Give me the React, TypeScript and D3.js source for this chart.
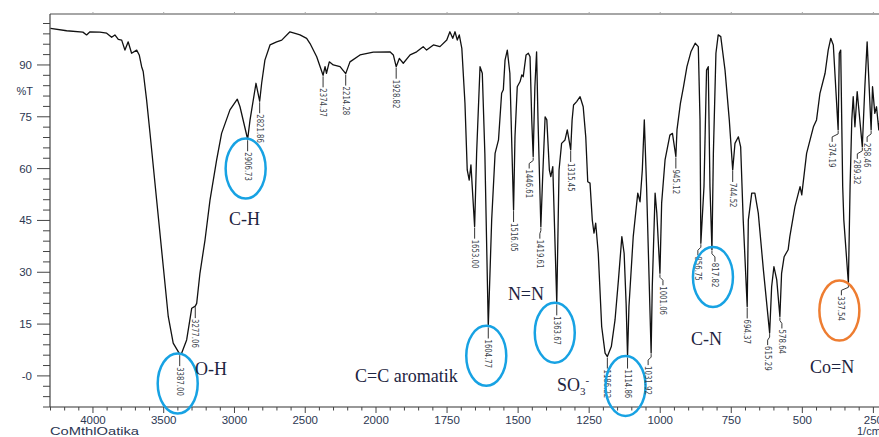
import React from "react";
import * as d3 from "d3";

// spectrum: wavenumber (1/cm) and %T
const wavenumber = [
  4300, 4186, 4071, 4045, 4021, 3951, 3903, 3868, 3845, 3821, 3797, 3774, 3751, 3727, 3691, 3673,
  3656, 3645, 3621, 3597, 3550, 3503, 3468, 3433, 3387, 3373, 3338, 3302, 3277, 3267, 3244, 3208,
  3173, 3126, 3091, 3032, 2980, 2961, 2907, 2890, 2848, 2822, 2808, 2785, 2749, 2702, 2666, 2608,
  2560, 2537, 2490, 2466, 2419, 2374, 2360, 2350, 2330, 2302, 2254, 2214, 2184, 2113, 2019, 1951,
  1939, 1929, 1918, 1904, 1880, 1857, 1834, 1822, 1798, 1775, 1751, 1740, 1730, 1722, 1714, 1707,
  1698, 1687, 1679, 1672, 1666, 1653, 1646, 1634, 1626, 1617, 1605, 1593, 1581, 1569, 1558, 1552,
  1546, 1538, 1529, 1516, 1511, 1503, 1493, 1487, 1482, 1472, 1464, 1458, 1452, 1447, 1441, 1435,
  1430, 1420, 1414, 1405, 1399, 1390, 1385, 1378, 1364, 1356, 1347, 1335, 1327, 1315, 1310, 1305,
  1294, 1282, 1271, 1262, 1255, 1247, 1239, 1233, 1227, 1218, 1206, 1194, 1186, 1172, 1159, 1147,
  1135, 1127, 1120, 1115, 1110, 1095, 1079, 1071, 1063, 1056, 1048, 1032, 1028, 1018, 1012, 1001,
  995, 983, 966, 957, 945, 941, 929, 918, 906, 892, 877, 866, 860, 857, 846, 837,
  831, 825, 818, 813, 804, 796, 787, 772, 757, 745, 737, 725, 717, 708, 694, 690,
  678, 667, 655, 637, 615, 608, 600, 590, 579, 573, 564, 550, 544, 526, 508, 502,
  485, 461, 450, 438, 420, 409, 400, 391, 374, 370, 365, 358, 354, 338, 332, 326,
  321, 315, 307, 289, 280, 272, 258, 253, 245, 239, 231, 222,
];
const transmittance = [
  100.6, 99.9, 99.5, 98.7, 99.6, 99.5, 99.2, 98.0, 98.7, 97.4, 97.2, 94.3, 96.7, 93.4, 94.3, 92.9,
  89.5, 88.1, 79.9, 70.3, 50.9, 31.6, 17.2, 9.5, 6.3, 6.6, 10.4, 19.6, 20.2, 21.0, 29.7, 39.4,
  50.9, 62.5, 70.2, 77.0, 80.1, 77.9, 68.5, 74.1, 84.7, 79.5, 84.7, 91.4, 95.8, 96.7, 97.2, 99.6,
  99.0, 98.7, 97.7, 96.2, 92.4, 87.0, 89.5, 87.6, 90.9, 90.0, 89.5, 87.5, 90.9, 92.9, 93.7, 93.8,
  92.9, 89.5, 91.9, 90.5, 92.9, 93.8, 95.3, 94.3, 95.8, 95.3, 97.2, 99.6, 97.7, 99.6, 97.2, 98.7,
  94.8, 78.9, 59.6, 56.7, 61.1, 43.2, 64.4, 89.5, 87.6, 64.4, 14.3, 45.1, 64.4, 68.3, 81.8, 82.8,
  91.4, 94.3, 87.6, 48.0, 69.2, 83.7, 85.2, 87.1, 86.6, 92.9, 93.4, 92.4, 74.1, 63.5, 83.7, 93.8,
  74.1, 43.2, 56.7, 75.0, 74.1, 59.6, 57.7, 60.6, 21.0, 59.6, 67.3, 68.3, 71.2, 65.4, 74.1, 78.4,
  79.4, 80.8, 77.9, 69.2, 56.2, 55.8, 45.1, 41.3, 44.2, 35.5, 14.3, 6.6, 5.6, 8.5, 16.2, 27.8,
  40.3, 35.5, 21.0, 5.6, 20.1, 40.3, 52.9, 50.4, 59.6, 74.1, 54.8, 6.6, 25.8, 52.9, 47.1, 29.7,
  50.0, 62.5, 69.7, 70.2, 63.5, 71.2, 78.9, 83.7, 89.5, 93.8, 96.3, 95.3, 74.1, 38.4, 54.8, 88.5,
  89.5, 54.8, 36.5, 64.4, 93.4, 98.7, 98.2, 88.5, 74.1, 59.6, 67.3, 69.2, 66.3, 45.1, 20.1, 45.1,
  52.9, 52.9, 47.1, 30.7, 12.4, 25.8, 31.6, 27.8, 17.2, 29.7, 34.5, 36.5, 40.3, 49.0, 54.8, 52.4,
  64.4, 72.1, 74.1, 81.8, 87.6, 94.3, 97.7, 95.8, 71.2, 93.4, 94.3, 54.8, 45.1, 26.8, 54.8, 74.1,
  80.8, 72.1, 82.3, 66.3, 83.7, 96.7, 71.2, 83.7, 76.0, 77.9, 71.2, 80.0,
];

// peak picks
const peakWn = [
  3387, 3277, 2907, 2822, 2374, 2214, 1929, 1653, 1605, 1516, 1447, 1420, 1364, 1315, 1186,
  1115, 1032, 1001, 945, 857, 818, 745, 694, 615, 579, 374, 338, 289, 258,
];
const peakLabels = [
  "3387.00", "3277.06", "2906.73", "2821.86", "2374.37", "2214.28", "1928.82", "1653.00",
  "1604.77", "1516.05", "1446.61", "1419.61", "1363.67", "1315.45", "1186.22", "1114.86",
  "1031.92", "1001.06", "945.12", "856.75", "817.82", "744.52", "694.37", "615.29", "578.64",
  "374.19", "337.54", "289.32", "258.46",
];
const circledBlue = ["3387.00", "2906.73", "1604.77", "1363.67", "1114.86", "817.82"];
const circledOrange = ["337.54"];

// band assignments (text, wavenumber, %T where the text sits)
const bandText = ["O-H", "C-H", "C=C aromatik", "N=N", "SO3-", "C-N", "Co=N"];
const bandWn = [3279, 3039, 2148, 1536, 1363, 892, 473];
const bandT = [0.3, 43.7, -1.7, 22, -4.3, 9, 0.9];

const xTickLabels = [4000, 3500, 3000, 2500, 2000, 1750, 1500, 1250, 1000, 750, 500, 250];
const yTickLabels = ["-0", "15", "30", "45", "60", "75", "90"];
const yTickValues = [0, 15, 30, 45, 60, 75, 90];

// sideways jog of some leader lines
const leaderJog: Record<string, number> = {
  "1446.61": -4, "1419.61": -1, "1031.92": -3, "1001.06": 3, "856.75": -3, "817.82": 3,
  "615.29": -2, "578.64": 2, "374.19": -6, "337.54": -7, "289.32": -5, "258.46": -4,
};

const W = 879;
const H = 437;
const left = 50;
const top = 14;
const bottom = 407;

export default function App() {
  // Shimadzu-style x axis: scale doubles below 2000 1/cm
  const x = d3.scaleLinear().domain([4300, 2000, 200]).range([50.5, 376, 887.6]);
  const y = d3.scaleLinear().domain([-9, 104.75]).range([bottom, top]);

  const pts = wavenumber.map((w, i) => [w, transmittance[i]] as [number, number]);
  const line = d3
    .line<[number, number]>()
    .x((d) => x(d[0]))
    .y((d) => y(d[1]));

  const xMinor = [
    ...d3.range(4300, 2000, -100),
    ...d3.range(2000, 199, -50),
  ];
  const yMinor = d3.range(-9, 104, 3);

  const tickFont = "'Liberation Sans', Arial, sans-serif";
  const labelColor = "#2c3752";
  const bandColor = "#1d2440";

  return (
    <svg
      width={W}
      height={H}
      style={{ position: "absolute", left: 0, top: 0, background: "#fff" }}
    >
      {/* frame */}
      <line x1={left} x2={W} y1={top} y2={top} stroke="#a6a6a6" strokeWidth={2} />
      {xTickLabels.map((t) => (
        <line key={"tt" + t} x1={x(t)} x2={x(t)} y1={top - 2} y2={top + 1} stroke="#a6a6a6" />
      ))}
      <line x1={left} x2={left} y1={top} y2={bottom} stroke="#444" strokeWidth={1.2} />
      <line x1={left} x2={W} y1={bottom} y2={bottom} stroke="#333" strokeWidth={1.2} />

      {/* y axis */}
      {yMinor.map((v) => {
        const major = yTickValues.includes(v);
        return (
          <line
            key={"y" + v}
            x1={major ? left - 13 : left - 7}
            x2={left}
            y1={y(v)}
            y2={y(v)}
            stroke="#444"
          />
        );
      })}
      {yTickValues.map((v, i) => (
        <text
          key={"yl" + v}
          x={32}
          y={y(v)}
          dy="0.35em"
          textAnchor="end"
          fontFamily={tickFont}
          fontSize={11.5}
          fill={labelColor}
        >
          {yTickLabels[i]}
        </text>
      ))}
      <text x={33} y={91} dy="0.35em" textAnchor="end" fontFamily={tickFont} fontSize={11} fill={labelColor}>
        %T
      </text>

      {/* x axis */}
      {xMinor.map((v) => {
        const major = xTickLabels.includes(v);
        return (
          <line
            key={"x" + v}
            x1={x(v)}
            x2={x(v)}
            y1={bottom}
            y2={bottom + (major ? 6 : 3.5)}
            stroke="#444"
          />
        );
      })}
      {xTickLabels.map((t) => (
        <text
          key={"xl" + t}
          x={x(t)}
          y={424}
          textAnchor="middle"
          fontFamily={tickFont}
          fontSize={11.5}
          fill={labelColor}
        >
          {t}
        </text>
      ))}
      <text
        x={left}
        y={435}
        fontFamily={tickFont}
        fontSize={11}
        textLength={89}
        lengthAdjust="spacingAndGlyphs"
        fill={labelColor}
      >
        CoMthlOatika
      </text>
      <text x={857} y={435} fontFamily={tickFont} fontSize={11} fill={labelColor}>
        1/cm
      </text>

      {/* spectrum */}
      <path d={line(pts) || ""} fill="none" stroke="#111" strokeWidth={1.3} strokeLinejoin="round" />

      {/* peak labels */}
      {peakWn.map((w, i) => {
        const lab = peakLabels[i];
        const t = transmittance[wavenumber.indexOf(w)];
        const px = x(w);
        const py = y(t);
        const jog = leaderJog[lab] || 0;
        const lead = jog
          ? `M${px},${py + 1}v3l${jog},3v5`
          : `M${px},${py + 1}V${py + 12}`;
        const tx = px + jog;
        const ty = py + 13;
        const len = 4.1 * lab.length;
        const blue = circledBlue.includes(lab);
        const orange = circledOrange.includes(lab);
        return (
          <g key={lab}>
            <path d={lead} fill="none" stroke="#333" strokeWidth={1} />
            <text
              x={tx}
              y={ty}
              dy="0.35em"
              transform={`rotate(90 ${tx} ${ty})`}
              fontFamily="'Liberation Sans Narrow', 'DejaVu Sans Condensed', sans-serif"
              fontSize={8.5}
              textLength={len}
              lengthAdjust="spacingAndGlyphs"
              fill="#3a3f4a"
            >
              {lab}
            </text>
            {(blue || orange) && (
              <ellipse
                cx={tx - 2}
                cy={ty + len / 2 + 2}
                rx={20}
                ry={30}
                fill="none"
                stroke={blue ? "#17a2e3" : "#ee7d31"}
                strokeWidth={2.5}
              />
            )}
          </g>
        );
      })}

      {/* band assignments */}
      {bandText.map((s, i) => (
        <text
          key={s}
          x={x(bandWn[i])}
          y={y(bandT[i])}
          fontFamily="'Liberation Serif', 'Times New Roman', serif"
          fontSize={18}
          fill={bandColor}
        >
          {s === "SO3-" ? (
            <>
              SO
              <tspan dy={4} fontSize={11}>3</tspan>
              <tspan dy={-11} fontSize={11}>-</tspan>
            </>
          ) : (
            s
          )}
        </text>
      ))}
    </svg>
  );
}
